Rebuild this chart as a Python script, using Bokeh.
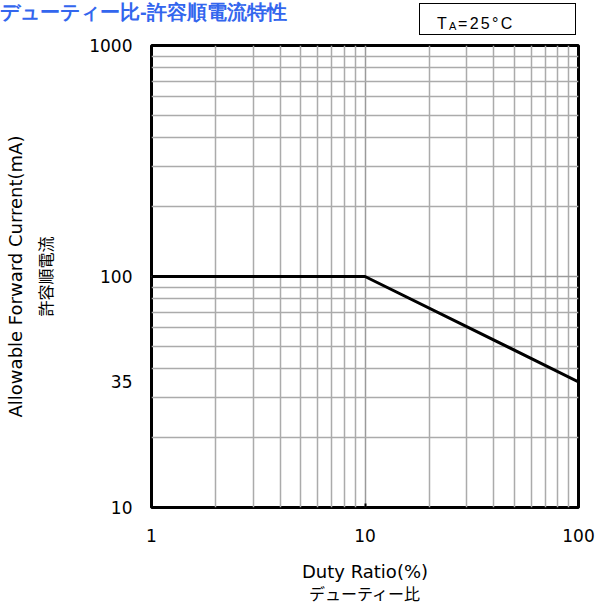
from bokeh.plotting import figure
from bokeh.layouts import column
from bokeh.models import FixedTicker, LogAxis, Range1d, NumeralTickFormatter, Div
from bokeh.embed import file_html
from bokeh.resources import INLINE

# ---- data ----
duty = [1, 10, 100]          # Duty Ratio (%)
current = [100, 100, 35]     # Allowable forward current (mA)
x_ticks = [1, 10, 100]
x_minor = [2, 3, 4, 5, 6, 7, 8, 9, 20, 30, 40, 50, 60, 70, 80, 90]
y_ticks = [10, 35, 100, 1000]
y_grid = [10, 100, 1000]
y_minor = [20, 30, 40, 50, 60, 70, 80, 90, 200, 300, 400, 500, 600, 700, 800, 900]

title_text = "デューティー比-許容順電流特性"
cond_main = "T"
cond_sub = "A"
cond_rest = "=25°C"
x_label_en = "Duty Ratio(%)"
x_label_jp = "デューティー比"
y_label_en = "Allowable Forward Current(mA)"
y_label_jp = "許容順電流"

EN = "DejaVu Sans"
JP = "Noto Sans CJK JP"
W = 600
HEAD = 35

# ---- header: title + condition box (inline SVG text) ----
header_html = f"""
<svg xmlns="http://www.w3.org/2000/svg" width="{W}" height="{HEAD}" style="display:block">
  <text x="0" y="19" font-family="{JP}" font-weight="bold" font-size="20" fill="#3366ee">{title_text}</text>
  <rect x="419.5" y="3.5" width="156" height="31" fill="none" stroke="black" stroke-width="1"/>
  <text x="437" y="29" font-family="{EN}" font-size="16" fill="black">{cond_main}</text>
  <text x="449" y="30" font-family="{EN}" font-size="11" fill="black">{cond_sub}</text>
  <text x="458" y="29" font-family="{EN}" font-size="16" letter-spacing="2.3" fill="black">{cond_rest}</text>
</svg>
"""
header = Div(text=header_html, width=W, height=HEAD, margin=0)

# ---- main chart ----
p = figure(width=W, height=607 - HEAD, x_axis_type="log", y_axis_type="log",
           x_range=Range1d(1, 100), y_range=Range1d(10, 1000),
           output_backend="svg", toolbar_location=None,
           min_border_left=151, min_border_right=22,
           min_border_top=10, min_border_bottom=95, margin=0)
p.background_fill_color = "white"
p.border_fill_color = "white"
p.outline_line_color = "black"
p.outline_line_width = 3

p.xgrid.ticker = FixedTicker(ticks=x_ticks, minor_ticks=x_minor)
p.ygrid.ticker = FixedTicker(ticks=y_grid, minor_ticks=y_minor)
for g in (p.xgrid[0], p.ygrid[0]):
    g.grid_line_color = "#9a9a9a"
    g.grid_line_width = 1.5
    g.minor_grid_line_color = "#ababab"
    g.minor_grid_line_width = 1.5

xa = p.xaxis[0]
xa.ticker = FixedTicker(ticks=x_ticks, minor_ticks=[])
xa.formatter = NumeralTickFormatter(format="0")
xa.axis_line_color = None
xa.major_tick_in = 4
xa.major_tick_out = 0
xa.major_tick_line_width = 2
xa.minor_tick_in = 0
xa.minor_tick_out = 0
xa.major_label_standoff = 21
xa.major_label_text_font = EN
xa.major_label_text_font_size = "17px"
xa.major_label_text_color = "black"
xa.axis_label = x_label_en
xa.axis_label_text_font = EN
xa.axis_label_text_font_style = "normal"
xa.axis_label_text_font_size = "18px"
xa.axis_label_text_color = "black"
xa.axis_label_standoff = 16

xa2 = LogAxis(ticker=FixedTicker(ticks=[]), axis_line_color=None,
              major_tick_in=0, major_tick_out=0, minor_tick_in=0, minor_tick_out=0,
              major_label_standoff=0, major_label_text_font_size="0px",
              axis_label=x_label_jp, axis_label_text_font=JP,
              axis_label_text_font_style="normal", axis_label_text_font_size="16px",
              axis_label_text_color="black", axis_label_standoff=-4)
p.add_layout(xa2, "below")

ya = p.yaxis[0]
ya.ticker = FixedTicker(ticks=y_ticks, minor_ticks=[])
ya.formatter = NumeralTickFormatter(format="0")
ya.axis_line_color = None
ya.major_tick_in = 0
ya.major_tick_out = 0
ya.minor_tick_in = 0
ya.minor_tick_out = 0
ya.major_label_standoff = 19
ya.major_label_text_font = EN
ya.major_label_text_font_size = "17px"
ya.major_label_text_color = "black"
ya.axis_label = y_label_jp
ya.axis_label_text_font = JP
ya.axis_label_text_font_style = "normal"
ya.axis_label_text_font_size = "16px"
ya.axis_label_text_color = "black"
ya.axis_label_standoff = 29

ya2 = LogAxis(ticker=FixedTicker(ticks=[]), axis_line_color=None,
              major_tick_in=0, major_tick_out=0, minor_tick_in=0, minor_tick_out=0,
              major_label_standoff=0, major_label_text_font_size="0px",
              axis_label=y_label_en, axis_label_text_font=EN,
              axis_label_text_font_style="normal", axis_label_text_font_size="18px",
              axis_label_text_color="black", axis_label_standoff=5)
p.add_layout(ya2, "left")

p.line(duty, current, line_width=3, line_color="black")

layout = column(header, p, spacing=0)
open("out.html", "w").write(file_html(layout, INLINE))
